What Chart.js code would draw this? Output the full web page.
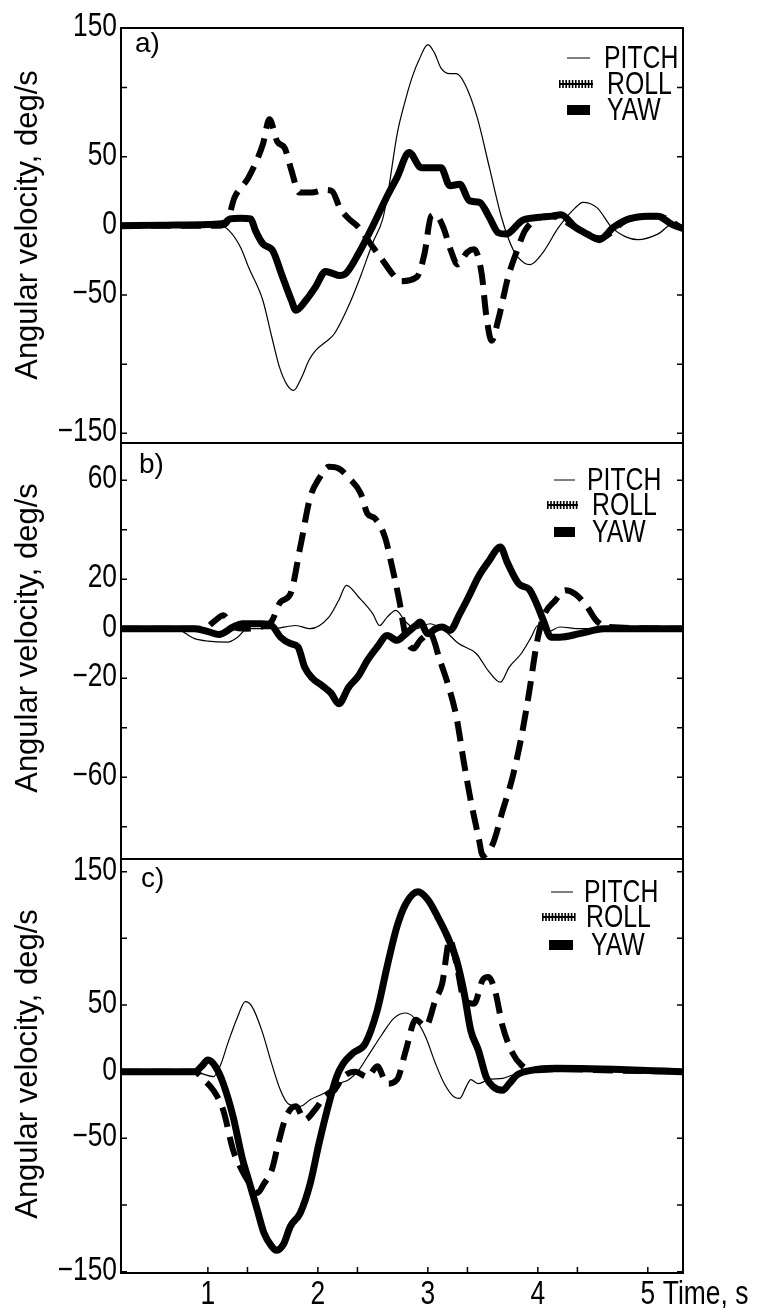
<!DOCTYPE html>
<html><head><meta charset="utf-8">
<script src="https://cdn.jsdelivr.net/npm/chart.js@4"></script>
<style>
html,body{margin:0;padding:0;background:#fff;}
#wrap{position:relative;width:757px;height:1308px;overflow:hidden;background:#fff;}
canvas{position:absolute;left:0;}
</style>
</head><body><div id="wrap">
<canvas id="ca" width="757" height="445" style="top:0px"></canvas>
<canvas id="cb" width="757" height="432" style="top:429px"></canvas>
<canvas id="cc" width="757" height="463" style="top:845px"></canvas>
</div>
<script>
// ---------- Panel a) ----------
const aPitchT = [0.21,0.9,1.12,1.2,1.3,1.37,1.5,1.58,1.65,1.72,1.78,1.85,1.92,1.98,2.07,2.15,2.29,2.4,2.5,2.59,2.64,2.72,2.8,2.86,2.92,3.0,3.06,3.12,3.2,3.26,3.34,3.45,3.56,3.67,3.78,3.88,3.93,4.04,4.19,4.34,4.41,4.54,4.67,4.8,4.91,5.09,5.24,5.32];
const aPitchV = [0,0,0,-4,-16,-30,-54,-80,-102,-115,-119,-110,-97,-90,-84,-78,-56,-34,-12,5,25,66,92,108,120,131,125,114,110,110,102,78,42,6,-18,-27,-28,-20,-1,13,17,13,-1,-8,-10,-6,2,-2];
const aYawT = [0.21,0.6,1.0,1.15,1.2,1.3,1.39,1.43,1.5,1.59,1.67,1.76,1.8,1.89,1.98,2.07,2.12,2.2,2.26,2.37,2.5,2.64,2.72,2.83,2.94,3.03,3.12,3.2,3.29,3.38,3.47,3.56,3.64,3.71,3.86,3.99,4.13,4.21,4.34,4.45,4.56,4.69,4.83,5.0,5.09,5.22,5.32];
const aYawV = [0,0.5,1,2,5,5.5,5,-3,-13,-18,-35,-54,-61,-54,-44,-33,-34,-36,-34,-20,0,23,35,53,42,42,42,29,30,18,17,6,-5,-6,4,6,7,8,-1,-6,-10,-1,5,7,7,1,-2];
const aRollT = [0.21,1.1,1.17,1.24,1.37,1.5,1.56,1.63,1.7,1.76,1.83,1.94,2.07,2.13,2.2,2.27,2.37,2.46,2.59,2.68,2.75,2.9,2.97,3.03,3.07,3.14,3.21,3.27,3.36,3.42,3.49,3.53,3.58,3.64,3.73,3.82,3.88,3.99,4.13,4.34,4.56,4.83,5.09,5.32];
const aRollV = [0,0,2,20,35,59,77,61,56,40,24,24,26,25,13,6,-1,-11,-25,-35,-40,-37,-20,7,8,-1,-18,-28,-19,-17,-35,-64,-83,-68,-37,-16,-4,5,7,-1,-9,5,7,-2];

// ---------- Panel b) ----------
const bPitchT = [0.21,0.7,0.88,1.0,1.18,1.27,1.36,1.58,1.8,1.93,2.1,2.19,2.26,2.37,2.5,2.56,2.63,2.71,2.8,2.89,3.02,3.15,3.28,3.44,3.55,3.66,3.74,3.85,3.94,4.0,4.09,4.2,4.38,5.32];
const bPitchV = [0,0,-4,-5,-5.4,-3.4,0,0,1.3,0,4.7,11.5,17.5,12.8,6,1.3,4.7,7.4,2.7,0,2,-0.7,-6,-10,-17,-21.6,-15.5,-10,-3.4,1.3,-1.3,0.7,0,0];
const bYawT = [0.21,0.79,0.88,1.01,1.1,1.23,1.31,1.49,1.58,1.66,1.75,1.82,1.88,1.95,2.04,2.12,2.19,2.28,2.37,2.45,2.54,2.63,2.72,2.8,2.89,2.93,3.0,3.07,3.13,3.2,3.29,3.37,3.46,3.55,3.66,3.72,3.83,3.92,3.99,4.05,4.12,4.2,4.38,4.6,5.32];
const bYawV = [0,0,0,-1.3,-2.3,0.7,2,2,1.3,-3.4,-6,-7.4,-15.5,-20,-23,-26,-30.3,-23.6,-19,-12.8,-7.4,-2.7,-4.7,-2,1.3,2.7,-2,0,0.7,-0.7,6,12.8,21,27,33,27,18,16,10,3.4,-3.4,-3.4,-2,0,0];
const bRollT = [0.21,0.96,1.07,1.14,1.23,1.35,1.5,1.58,1.66,1.75,1.84,1.93,2.01,2.1,2.19,2.28,2.39,2.45,2.52,2.61,2.67,2.74,2.8,2.87,2.93,3.02,3.11,3.2,3.26,3.33,3.39,3.46,3.5,3.59,3.68,3.77,3.85,3.92,3.99,4.05,4.16,4.25,4.34,4.45,4.53,4.64,5.32];
const bRollV = [0,0,3.4,5.4,0.7,0,1,3,10.8,14,33,53,60.6,65.4,64.7,61,54.6,46.5,44.5,37,26,11.5,-3.4,-8,-4.7,-2,-12.8,-25,-35.7,-54.6,-69.4,-84,-91.6,-87,-73.5,-60,-43.8,-26,-6,4.7,11.5,15.5,14,8.8,3.4,0.7,0];

// ---------- Panel c) ----------
const cPitchT = [0.21,0.88,0.96,1.05,1.12,1.18,1.27,1.34,1.4,1.49,1.58,1.66,1.73,1.84,1.93,2.06,2.19,2.28,2.37,2.45,2.58,2.69,2.8,2.89,2.98,3.07,3.15,3.24,3.29,3.35,3.39,3.46,3.55,3.68,3.77,3.9,5.32];
const cPitchV = [0,0,-1.8,-3.7,6,21,41,52.5,49,31,6,-14,-24,-26,-21,-16,-9,-6,1,11,27.5,40,44,39,26,6,-9,-19,-20,-11,-6,-9,-6,-5,-2.5,0,0];
const cYawT = [0.21,0.88,0.94,1.0,1.07,1.14,1.23,1.31,1.38,1.45,1.51,1.58,1.62,1.69,1.75,1.84,1.93,2.01,2.1,2.17,2.23,2.32,2.43,2.54,2.63,2.72,2.8,2.91,3.0,3.09,3.18,3.26,3.33,3.39,3.46,3.53,3.59,3.68,3.74,3.81,3.94,4.16,5.32];
const cYawV = [0,0,3.7,8.7,3.7,-9,-34,-64,-84,-104,-121,-131,-134,-129,-116,-106,-84,-54,-24,-4,6,14,21,46,79,109,126,135,129,116,101,84,59,31,16,-4,-11,-14,-9,-2.5,1,2.5,0];
const cRollT = [0.21,0.88,0.96,1.05,1.14,1.23,1.31,1.38,1.45,1.51,1.58,1.64,1.71,1.8,1.88,1.97,2.06,2.15,2.23,2.34,2.45,2.54,2.63,2.72,2.8,2.89,2.98,3.07,3.13,3.2,3.26,3.33,3.42,3.5,3.55,3.61,3.68,3.77,3.85,3.94,4.2,4.6,5.32];
const cRollV = [0,0,-6,-14,-29,-59,-74,-84,-91,-84,-74,-54,-34,-26,-36,-29,-19,-14,-4,0,-4,4,-9,-6,16,39,34,54,66,99,81,54,51,69,71,61,34,14,5,1,2,1,0];

// ---------- Axes / labels ----------
const xRange = [0.21, 5.32];
const xTickVals = [1,1.36,2,2.36,3,3.36,4,4.36,5];
const xLabelVals = [1,2,3,4,5];
const aYRange = [-157, 143];
const aYTicks = [150,100,50,0,-50,-100,-150];
const aYLabels = [150,50,0,-50,-150];
const bYRange = [-93, 75];
const bYTicks = [60,40,20,0,-20,-40,-60,-80];
const bYLabels = [60,20,0,-20,-60];
const cYRange = [-151, 159.5];
const cYTicks = [150,100,50,0,-50,-100,-150];
const cYLabels = [150,50,0,-50,-150];
const seriesNames = ['PITCH','ROLL','YAW'];
const yTitle = 'Angular velocity, deg/s';
const xTitle = 'Time, s';

const FONT = '"Liberation Sans", Arial, Helvetica, sans-serif';
function fmt(v){ return v < 0 ? '\u2212' + Math.abs(v) : String(v); }
function pts(t, v){ return t.map((x,i)=>({x:x, y:v[i]})); }
function narrowText(ctx, text, x, y, size, sx, align) {
  ctx.save();
  ctx.font = size + 'px ' + FONT;
  const w = ctx.measureText(text).width * sx;
  let left = x;
  if (align === 'right') left = x - w;
  else if (align === 'center') left = x - w / 2;
  ctx.translate(left, y);
  ctx.scale(sx, 1);
  ctx.textAlign = 'left'; ctx.textBaseline = 'alphabetic';
  ctx.fillText(text, 0, 0);
  ctx.restore();
}

const deco = {
  id: 'deco',
  afterDraw(chart, args, o) {
    const ctx = chart.ctx, ca = chart.chartArea, ys = chart.scales.y, xs = chart.scales.x;
    ctx.save();
    ctx.fillStyle = '#000'; ctx.strokeStyle = '#000';
    // frame
    ctx.lineWidth = 2;
    ctx.strokeRect(ca.left, ca.top, ca.right - ca.left, ca.bottom - ca.top);
    // y ticks (inward, both sides)
    ctx.lineWidth = 1.5;
    o.yTicks.forEach(v => {
      const y = ys.getPixelForValue(v);
      if (y < ca.top + 2 || y > ca.bottom - 0.5) return;
      ctx.beginPath();
      ctx.moveTo(ca.left, y); ctx.lineTo(ca.left + 6, y);
      ctx.moveTo(ca.right - 6, y); ctx.lineTo(ca.right, y);
      ctx.stroke();
    });
    // y tick labels (narrow face)
    o.yLabels.forEach(v => {
      const y = Math.max(ys.getPixelForValue(v) + o.labelDy, ca.top + 8);
      narrowText(ctx, fmt(v), ca.left - 4, y, 33, 0.8, 'right');
    });
    // x ticks / labels
    if (o.xAxis) {
      ctx.beginPath();
      xTickVals.forEach(v => {
        const x = xs.getPixelForValue(v);
        ctx.moveTo(x, ca.bottom); ctx.lineTo(x, ca.bottom - 6);
      });
      ctx.stroke();
      xLabelVals.forEach(v => {
        narrowText(ctx, String(v), xs.getPixelForValue(v), ca.bottom + 31, 33, 0.8, 'center');
      });
      narrowText(ctx, xTitle, xs.getPixelForValue(5) + 15, ca.bottom + 31, 33, 0.8, 'left');
    }
    // panel letter
    ctx.font = '28px ' + FONT;
    ctx.textAlign = 'left'; ctx.textBaseline = 'alphabetic';
    ctx.fillText(o.letter, ca.left + o.letterDx, ca.top + o.letterDy);
    // y title
    ctx.save();
    ctx.translate(37, ca.top + o.titleDy);
    ctx.rotate(-Math.PI / 2);
    ctx.font = '31px ' + FONT;
    ctx.textAlign = 'center';
    ctx.fillText(yTitle, 0, 0);
    ctx.restore();
    // legend
    const L = o.legend;
    seriesNames.forEach((name, i) => {
      const base = ca.top + L.base[i];
      narrowText(ctx, name, ca.right - L.textDx[i], base, 31, 0.8, 'left');
      const my = base - 10;
      const x0 = ca.right - L.markDx[i][0], x1 = ca.right - L.markDx[i][1];
      if (i === 0) {
        ctx.lineWidth = 1; ctx.beginPath(); ctx.moveTo(x0, my); ctx.lineTo(x1, my); ctx.stroke();
      } else if (i === 1) {
        ctx.fillRect(x0, my - 1, x1 - x0, 2);
        for (let x = x0; x < x1; x += 3.2) ctx.fillRect(x, my - 4, 1.6, 8);
      } else {
        ctx.fillRect(x0, my - 5, x1 - x0, 10);
      }
    });
    ctx.restore();
  }
};

function makeChart(id, series, yRange, pad, opts) {
  const common = { pointRadius: 0, borderColor: '#000', fill: false, cubicInterpolationMode: 'monotone' };
  new Chart(document.getElementById(id), {
    type: 'line',
    data: { datasets: [
      Object.assign({ label: 'YAW', data: pts(series.yawT, series.yawV), borderWidth: 7, borderCapStyle: 'round', borderJoinStyle: 'round' }, common),
      Object.assign({ label: 'ROLL', data: pts(series.rollT, series.rollV), borderWidth: 6, borderDash: [20, 10], borderCapStyle: 'butt' }, common),
      Object.assign({ label: 'PITCH', data: pts(series.pitchT, series.pitchV), borderWidth: 1.2 }, common)
    ]},
    options: {
      responsive: false, animation: false, devicePixelRatio: 1,
      layout: { padding: pad },
      scales: {
        x: { type: 'linear', min: xRange[0], max: xRange[1], display: false },
        y: { type: 'linear', min: yRange[0], max: yRange[1], display: false }
      },
      plugins: { legend: { display: false }, tooltip: { enabled: false }, deco: opts }
    },
    plugins: [deco]
  });
}

makeChart('ca', { pitchT: aPitchT, pitchV: aPitchV, yawT: aYawT, yawV: aYawV, rollT: aRollT, rollV: aRollV },
  aYRange, { left: 121, right: 74, top: 28, bottom: 2 },
  { yTicks: aYTicks, yLabels: aYLabels, labelDy: 8, letter: 'a)', letterDx: 14, letterDy: 24, titleDy: 197,
    legend: { base: [40, 66, 92], textDx: [79, 76, 76], markDx: [[116, 93], [124, 90], [116, 93]] }, xAxis: false });

makeChart('cb', { pitchT: bPitchT, pitchV: bPitchV, yawT: bYawT, yawV: bYawV, rollT: bRollT, rollV: bRollV },
  bYRange, { left: 121, right: 74, top: 14, bottom: 2 },
  { yTicks: bYTicks, yLabels: bYLabels, labelDy: 8, letter: 'b)', letterDx: 18, letterDy: 30, titleDy: 195,
    legend: { base: [47, 72, 99], textDx: [96, 91, 91], markDx: [[129, 108], [136, 105], [129, 108]] }, xAxis: false });

makeChart('cc', { pitchT: cPitchT, pitchV: cPitchV, yawT: cYawT, yawV: cYawV, rollT: cRollT, rollV: cRollV },
  cYRange, { left: 121, right: 74, top: 14, bottom: 35 },
  { yTicks: cYTicks, yLabels: cYLabels, labelDy: 8, letter: 'c)', letterDx: 20, letterDy: 28, titleDy: 205,
    legend: { base: [43, 68, 96], textDx: [99, 97, 92], markDx: [[132, 110], [141, 108], [134, 110]] }, xAxis: true });
</script>
</body></html>
